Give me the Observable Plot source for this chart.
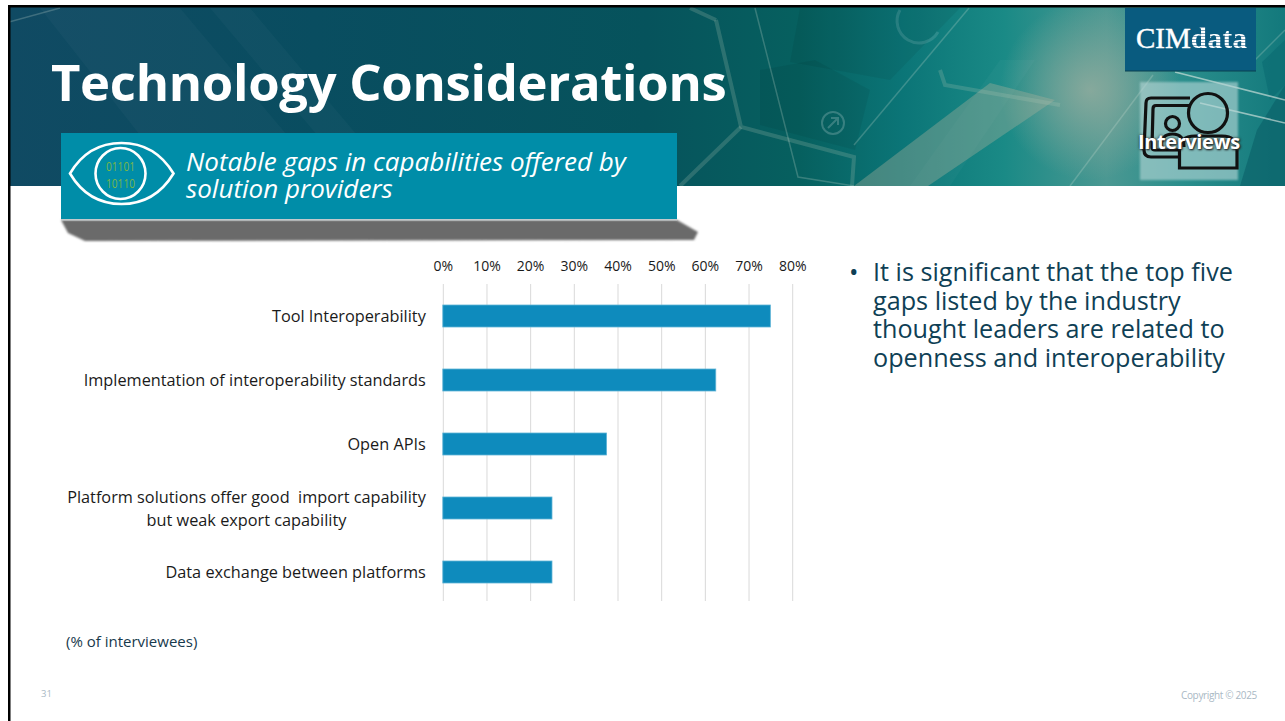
<!DOCTYPE html>
<html><head><meta charset="utf-8">
<script src="https://cdn.jsdelivr.net/npm/d3@7"></script>
<script src="https://cdn.jsdelivr.net/npm/@observablehq/plot@0.6"></script>
<style>
html,body{margin:0;padding:0;background:#fff;}
#slide{position:relative;width:1285px;height:721px;overflow:hidden;background:#fff;font-family:"Open Sans",sans-serif;}
#slide>*{position:absolute;}
#deco{left:0;top:0;}
#title{left:51px;top:47px;margin:0;font-size:50.8px;font-weight:700;color:#fff;line-height:70px;white-space:nowrap;letter-spacing:-.3px;}
#sub{left:186px;top:148px;margin:0;font-size:26px;font-style:italic;font-weight:400;color:#fff;line-height:27px;white-space:nowrap;}
#logo{left:1136px;top:20px;margin:0;font-family:"Liberation Serif",serif;font-size:29px;font-weight:400;color:#fff;line-height:36px;white-space:nowrap;-webkit-text-stroke:.4px #fff;}
#logo span{font-weight:700;letter-spacing:.5px;-webkit-text-stroke:0;background:repeating-linear-gradient(180deg,#fff 0,#fff 2px,#7fa3b8 2px,#7fa3b8 3px);-webkit-background-clip:text;background-clip:text;color:transparent;}
#tag{left:1138px;top:130px;margin:0;font-size:20px;font-weight:700;color:#fff;line-height:24px;white-space:nowrap;text-shadow:0 0 3px #222,1px 1px 2px #222;letter-spacing:-.4px;}
#note{left:849px;top:257px;margin:0;font-size:25.2px;color:#0f3f55;line-height:28.6px;width:410px;}
#note i{position:absolute;left:0;top:0;font-style:normal;}
#note div{margin-left:24px;white-space:nowrap;}
#unit{left:66px;top:631px;margin:0;font-size:15px;color:#17394c;line-height:20px;white-space:nowrap;}
#page{left:41px;top:687px;margin:0;font-size:9.5px;color:#a9b8c4;line-height:14px;}
#copy{left:1181px;top:688px;margin:0;font-size:10px;color:#a9b8c4;line-height:14px;white-space:nowrap;letter-spacing:-.35px;}
#chart{left:0;top:240px;}
#chart svg{overflow:visible;display:block;}
</style></head><body>
<div id="slide">
<svg id="deco" width="1285" height="721" xmlns="http://www.w3.org/2000/svg">
<defs>
<linearGradient id="hg" x1="0" x2="1" y1="0" y2="0">
<stop offset="0" stop-color="#104a63"/><stop offset=".24" stop-color="#094d60"/><stop offset=".5" stop-color="#06535c"/><stop offset=".62" stop-color="#06605f"/><stop offset=".7" stop-color="#0b7577"/><stop offset=".78" stop-color="#1a8a86"/><stop offset=".86" stop-color="#4b9892"/><stop offset=".92" stop-color="#2a8e8c"/><stop offset="1" stop-color="#13797c"/>
</linearGradient>
<radialGradient id="glow" cx="1090" cy="90" r="90" gradientUnits="userSpaceOnUse">
<stop offset="0" stop-color="#92ac9e" stop-opacity=".85"/><stop offset="1" stop-color="#92ac9e" stop-opacity="0"/>
</radialGradient>
<clipPath id="hc"><rect x="9" y="6" width="1276" height="180"/></clipPath>
<filter id="b3"><feGaussianBlur stdDeviation="2.5"/></filter>
<filter id="b1"><feGaussianBlur stdDeviation="1.2"/></filter>
</defs>
<g clip-path="url(#hc)">
<rect x="9" y="6" width="1276" height="180" fill="url(#hg)"/>
<rect x="960" y="6" width="260" height="180" fill="url(#glow)"/>
<g fill="#fff" fill-opacity=".028">
<path d="M40 8 L180 8 L330 186 L180 186Z"/><path d="M210 8 L250 8 L400 186 L360 186Z"/><path d="M1000 60 L1035 60 L950 186 L910 186Z"/>
</g>
<path d="M990 83 L1055 100 L928 186 L854 186Z" fill="#a9b09a" fill-opacity=".38"/>
<path d="M800 8 L960 8 L890 80 L790 62Z" fill="#000" fill-opacity=".06"/>
<path d="M760 70 L815 60 L870 90 L855 150 L760 125Z" fill="#000" fill-opacity=".06"/>
<path d="M1257 130 L1285 85 L1285 186 L1240 186Z" fill="#0a5f68" fill-opacity=".6"/>
<path d="M1262 62 L1285 40 L1285 85 L1270 100Z" fill="#0a6a72" fill-opacity=".6"/>
<g fill="none" stroke="#b8c9b8" stroke-opacity=".22" stroke-width="4">
<path d="M716 20 L741 127 L854 157 L852 186"/>
<path d="M741 127 L680 186"/>
<path d="M716 20 L690 8"/>
<path d="M940 70 L945 85 L1060 105"/>
</g>
<g fill="none" stroke="#d5e2d5" stroke-opacity=".24" stroke-width="1.5">
<path d="M755 8 L798 177 L854 186"/>
<path d="M969 8 L854 145"/>
<path d="M9 22 L60 8"/>
<path d="M1070 186 L1153 75"/>
<path d="M1255 60 L1285 30"/>
</g>
<g fill="none" stroke="#e4ede6" stroke-opacity=".6" stroke-width="1.6">
<path d="M1175 72 L1285 100"/><path d="M1200 103 L1285 123"/>
</g>
<circle cx="833" cy="123" r="11" fill="none" stroke="#fff" stroke-opacity=".2" stroke-width="2"/>
<path d="M828 128 L838 118 M831 118 L838 118 L838 125" fill="none" stroke="#fff" stroke-opacity=".2" stroke-width="2"/>
<path d="M900 10 A20 20 0 0 0 938 32" fill="none" stroke="#fff" stroke-opacity=".12" stroke-width="3"/>
</g>
<rect x="1140" y="82" width="98" height="98" fill="#b5d6d6" fill-opacity=".62" filter="url(#b1)"/>
<rect x="1125" y="8" width="131" height="63" fill="#095b7f"/>
<rect x="1125" y="70" width="131" height="2" fill="#0a3f4f" opacity=".5"/>
<rect x="9" y="5" width="1276" height="2.5" fill="#000"/>
<rect x="8" y="5" width="2.5" height="716" fill="#000"/>
<!-- interview icon -->
<g fill="none" stroke="#111" stroke-width="3.2">
<path d="M1190 98 L1151 98 Q1146 98 1146 103 L1144 150 Q1144 157 1151 157 L1180 157"/>
<path d="M1190 105.500 L1156 105.500 Q1153 105.500 1153 109 L1152 147 Q1152 150 1155 150 L1180 150"/>
<circle cx="1208" cy="113" r="19.500"/>
<circle cx="1172.500" cy="123.500" r="7"/>
<path d="M1161 147 Q1161 134 1172.500 134 Q1184 134 1184 147"/>
<path d="M1179.500 168 L1179.500 150 Q1179.500 136 1195 136 L1222 136 Q1237 136 1237 150 L1237 168 Z"/>
</g>
<!-- subtitle shadow and box -->
<path d="M61 220 L677 220 L698 232 L694 240 L85 241 L68 233Z" fill="#6b6b6b" filter="url(#b1)"/>
<rect x="61" y="133" width="616" height="87" fill="#008da8"/>
<rect x="61" y="219" width="616" height="1.500" fill="#c2c9cc"/>
<g fill="none" stroke="#fff" stroke-width="2.600">
<path d="M70 173.500 Q88 143 121.500 143 Q155 143 173.500 173.500 Q155 204 121.500 204 Q88 204 70 173.500Z"/>
<ellipse cx="120.500" cy="173.500" rx="25" ry="25.500"/>
</g>
<text x="120.500" y="171" text-anchor="middle" font-family="Open Sans" font-size="12" fill="#7ab648" textLength="29" lengthAdjust="spacingAndGlyphs">01101</text>
<text x="120.500" y="188" text-anchor="middle" font-family="Open Sans" font-size="12" fill="#7ab648" textLength="29" lengthAdjust="spacingAndGlyphs">10110</text>
</svg>

<h1 id="title">Technology Considerations</h1>
<p id="sub">Notable gaps in capabilities offered by<br>solution providers</p>
<p id="logo">CIM<span>data</span></p>
<p id="tag">Interviews</p>
<div id="chart"></div>
<div id="note"><i>•</i><div>It is significant that the top five</div><div>gaps listed by the industry</div><div>thought leaders are related to</div><div>openness and interoperability</div></div>
<p id="unit">(% of interviewees)</p>
<p id="page">31</p>
<p id="copy">Copyright © 2025</p>
</div>
<script>
const categories = [
  "Tool Interoperability",
  "Implementation of interoperability standards",
  "Open APIs",
  "Platform solutions offer good  import capability\nbut weak export capability",
  "Data exchange between platforms"
];
const shares = [0.75, 0.625, 0.375, 0.25, 0.25];
const xTicks = [0, 0.1, 0.2, 0.3, 0.4, 0.5, 0.6, 0.7, 0.8];
const rows = categories.map((category, i) => ({category, share: shares[i]}));

const chart = Plot.plot({
  width: 850, height: 380,
  marginLeft: 442.8, marginRight: 57.8, marginTop: 44, marginBottom: 19,
  style: {fontFamily: '"Open Sans",sans-serif', fontSize: "14.5px", color: "#1a1a1a", background: "transparent", overflow: "visible"},
  x: {domain: [0, 0.8], ticks: xTicks, tickFormat: d3.format(".0%"), axis: null},
  y: {domain: categories, range: [45.6, 362.9], paddingInner: 0.65, paddingOuter: 0.3, align: 0.5, axis: null},
  marks: [
    Plot.gridX(xTicks, {stroke: "#d9d9d9", strokeOpacity: 1, strokeWidth: 1}),
    Plot.barX(rows, {x: "share", y: "category", fill: "#0e8bbd", stroke: "#5fb4d6", strokeWidth: 0.8}),
    Plot.axisX(xTicks, {anchor: "top", tickSize: 0, tickPadding: 14, tickFormat: d3.format(".0%"), label: null, fontSize: 14, fill: "#1a1a1a"}),
    Plot.axisY(categories, {anchor: "left", tickSize: 0, tickPadding: 17.5, dy: -1.5, label: null, fontSize: 16.3, lineHeight: 1.41, fill: "#1a1a1a", textOverflow: null, lineWidth: 60})
  ]
});
document.getElementById("chart").appendChild(chart);
// The reference centres the second line of the wrapped label under the first.
chart.querySelectorAll("text").forEach(t => {
  const spans = t.querySelectorAll("tspan");
  if (spans.length === 2) {
    const shift = (spans[0].getComputedTextLength() - spans[1].getComputedTextLength()) / 2;
    spans[1].setAttribute("x", -shift);
  }
});
</script>
</body></html>
